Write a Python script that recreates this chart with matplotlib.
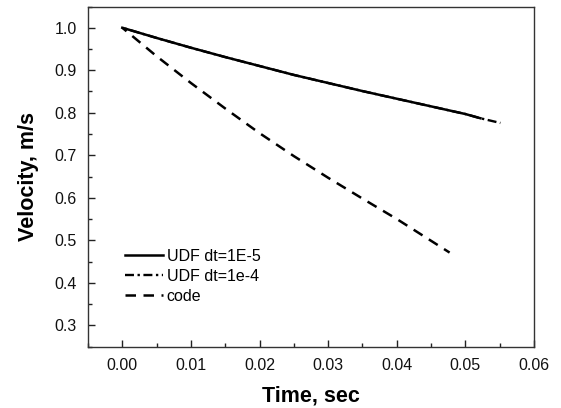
import matplotlib
matplotlib.use("Agg")
import matplotlib.pyplot as plt
from matplotlib.ticker import MultipleLocator
from matplotlib.lines import Line2D

plt.rcParams['font.family'] = ['Liberation Sans', 'DejaVu Sans']

# Data
t_udf5 = [0.0, 0.005, 0.01, 0.015, 0.02, 0.025, 0.03, 0.035, 0.04, 0.045, 0.05, 0.0522]
v_udf5 = [1.0, 0.976, 0.953, 0.931, 0.910, 0.889, 0.870, 0.851, 0.833, 0.815, 0.797, 0.787]

t_udf4 = [0.0, 0.005, 0.01, 0.015, 0.02, 0.025, 0.03, 0.035, 0.04, 0.045, 0.05, 0.0522, 0.0551]
v_udf4 = [1.0, 0.976, 0.953, 0.931, 0.910, 0.889, 0.870, 0.851, 0.833, 0.815, 0.797, 0.787, 0.776]

t_code = [0.0, 0.005, 0.01, 0.015, 0.02, 0.025, 0.03, 0.035, 0.04, 0.0477]
v_code = [1.0, 0.933, 0.870, 0.810, 0.752, 0.698, 0.647, 0.598, 0.550, 0.471]

labels = ["UDF dt=1E-5", "UDF dt=1e-4", "code"]
x_ticks = [0.00, 0.01, 0.02, 0.03, 0.04, 0.05, 0.06]
y_ticks = [0.3, 0.4, 0.5, 0.6, 0.7, 0.8, 0.9, 1.0]

fig = plt.figure(figsize=(5.61, 4.08), dpi=100)
ax = fig.add_axes([88/561, 1-346.5/408, 446/561, 340/408])

dashdot = (3.8, 1.5, 1.0, 1.5)
l4, = ax.plot(t_udf4, v_udf4, color='black', lw=1.7, linestyle=(4.15, dashdot), zorder=2)
l5, = ax.plot(t_udf5, v_udf5, color='black', lw=1.8, linestyle='-', zorder=3)
lc, = ax.plot(t_code, v_code, color='black', lw=1.8, linestyle=(2, (4.2, 3.0)), zorder=2)

ax.set_xlim(-0.005, 0.06)
ax.set_ylim(0.25, 1.05)
ax.set_xticks(x_ticks)
ax.set_xticklabels([f"{v:.2f}" for v in x_ticks])
ax.set_yticks(y_ticks)
ax.set_yticklabels([f"{v:.1f}" for v in y_ticks])
ax.xaxis.set_minor_locator(MultipleLocator(0.005))
ax.yaxis.set_minor_locator(MultipleLocator(0.05))

ax.tick_params(which='both', direction='in', top=False, right=False, colors='#222222', labelcolor='#111111', labelsize=11.5)
ax.tick_params(which='major', length=5, width=1, pad=8)
ax.tick_params(which='minor', length=3, width=1)
for s in ax.spines.values():
    s.set_linewidth(1.0)
    s.set_color('#333333')

ax.set_xlabel("Time, sec", fontsize=15.5, fontweight='bold', labelpad=9)
ax.set_ylabel("Velocity, m/s", fontsize=15.5, fontweight='bold', labelpad=11)

h4 = Line2D([], [], color='black', lw=1.7, linestyle=(0, dashdot))
hc = Line2D([], [], color='black', lw=1.8, linestyle=(0, (4.2, 3.0)))
ax.legend([l5, h4, hc], labels, loc='upper left', bbox_to_anchor=(0.083, 0.287),
          frameon=False, fontsize=11.5, handlelength=2.4, handletextpad=0.2,
          labelspacing=0.3, borderpad=0, borderaxespad=0)

fig.savefig("out.png", dpi=100)
